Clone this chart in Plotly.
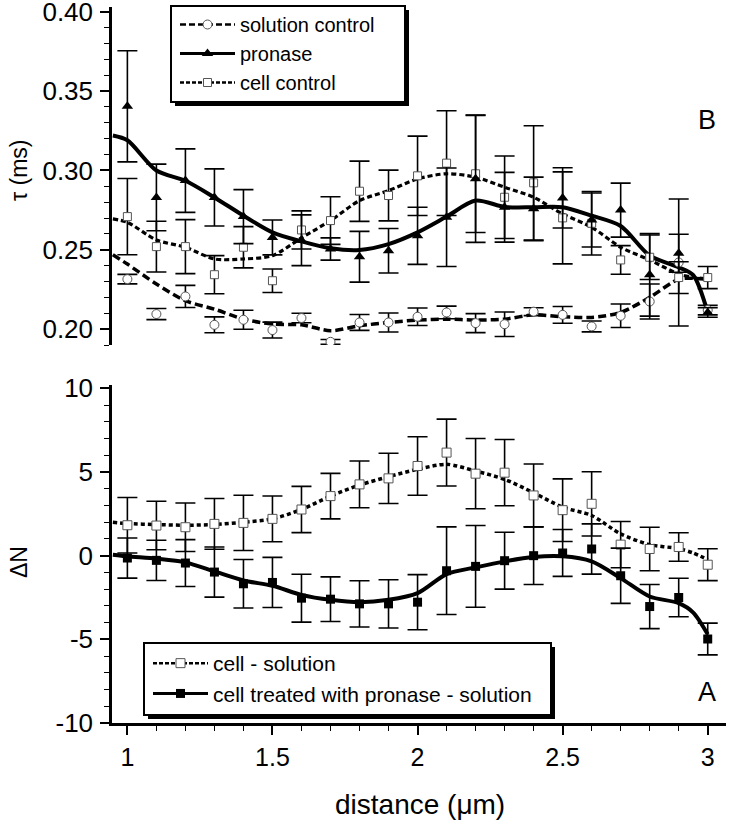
import plotly.graph_objects as go

FONT = "Liberation Sans, Arial, sans-serif"

# ---------------- data ----------------
x_pts = [1.0, 1.1, 1.2, 1.3, 1.4, 1.5, 1.6, 1.7, 1.8, 1.9, 2.0,
         2.1, 2.2, 2.3, 2.4, 2.5, 2.6, 2.7, 2.8, 2.9, 3.0]

# top panel (B): tau (ms)
sol_ctrl = [0.2315, 0.2095, 0.2206, 0.2027, 0.2059, 0.1994, 0.2070, 0.1920, 0.2042, 0.2042, 0.2078,
            0.2105, 0.2038, 0.2031, 0.2110, 0.2090, 0.2017, 0.2084, 0.2174, 0.2420, 0.2120]
sol_ctrl_err = [0.003, 0.0035, 0.007, 0.005, 0.006, 0.005, 0.003, 0.0015, 0.005, 0.006, 0.0055,
                0.004, 0.006, 0.0077, 0.0025, 0.0053, 0.0034, 0.0074, 0.011, 0.040, 0.003]

pronase = [0.3404, 0.2830, 0.2936, 0.2830, 0.2709, 0.2578, 0.2560, 0.2505, 0.2456, 0.2494, 0.2588,
           0.2705, 0.2947, 0.2768, 0.2758, 0.2827, 0.2688, 0.2750, 0.2342, 0.2478, 0.2105]
pronase_err = [0.035, 0.021, 0.020, 0.018, 0.017, 0.011, 0.016, 0.007, 0.016, 0.014, 0.018,
               0.031, 0.040, 0.022, 0.020, 0.019, 0.017, 0.017, 0.026, 0.012, 0.003]

cell_ctrl = [0.2709, 0.2520, 0.2520, 0.2343, 0.2516, 0.2305, 0.2625, 0.2684, 0.2869, 0.2842, 0.2966,
             0.3046, 0.2979, 0.2831, 0.2922, 0.2701, 0.2667, 0.2436, 0.2453, 0.2325, 0.2325]
cell_ctrl_err = [0.024, 0.016, 0.017, 0.012, 0.013, 0.0074, 0.012, 0.015, 0.019, 0.016, 0.025,
                 0.033, 0.037, 0.026, 0.036, 0.029, 0.020, 0.009, 0.014, 0.010, 0.007]

# smoothed curves drawn through the top panel
fit_x = [0.95, 1.0, 1.1, 1.2, 1.3, 1.4, 1.5, 1.6, 1.7, 1.8, 1.9, 2.0,
         2.1, 2.2, 2.3, 2.4, 2.5, 2.6, 2.7, 2.8, 2.9, 2.95, 3.0]
sol_ctrl_fit = [0.2469, 0.2410, 0.2284, 0.2179, 0.2126, 0.2063, 0.2032, 0.2027, 0.1990, 0.2021, 0.2042, 0.2057,
                0.2063, 0.2057, 0.2063, 0.2090, 0.2078, 0.2074, 0.2105, 0.2200, 0.2315, 0.2320, 0.2315]
pronase_fit = [0.3220, 0.3190, 0.3000, 0.2935, 0.2830, 0.2715, 0.2610, 0.2553, 0.2510, 0.2499, 0.2536, 0.2610,
               0.2709, 0.2810, 0.2770, 0.2768, 0.2768, 0.2715, 0.2650, 0.2463, 0.2390, 0.2340, 0.2105]
cell_ctrl_fit = [0.2695, 0.2673, 0.2562, 0.2516, 0.2442, 0.2442, 0.2463, 0.2575, 0.2684, 0.2810, 0.2873, 0.2947,
                 0.2979, 0.2958, 0.2894, 0.2831, 0.2726, 0.2642, 0.2516, 0.2436, 0.2347, 0.2326, 0.2316]

# bottom panel (A): delta N
cell_minus_sol = [1.82, 1.80, 1.70, 1.90, 1.96, 2.20, 2.76, 3.56, 4.26, 4.62, 5.36,
                  6.16, 4.90, 4.96, 3.60, 2.72, 3.10, 0.66, 0.40, 0.52, -0.54]
cell_minus_sol_err = [1.66, 1.45, 1.45, 1.52, 1.65, 1.37, 1.38, 1.36, 1.40, 1.50, 1.75,
                      2.00, 2.10, 1.98, 1.88, 1.87, 1.92, 1.38, 1.30, 0.85, 0.95]
pron_minus_sol = [-0.14, -0.28, -0.44, -0.98, -1.68, -1.60, -2.54, -2.60, -2.88, -2.88, -2.78,
                  -0.90, -0.64, -0.30, 0.00, 0.16, 0.40, -1.20, -3.04, -2.50, -4.98]
pron_minus_sol_err = [1.20, 1.20, 1.40, 1.50, 1.45, 1.50, 1.43, 1.33, 1.38, 1.44, 1.65,
                      2.62, 2.44, 1.70, 1.72, 1.40, 1.50, 1.65, 1.32, 1.15, 0.95]
cell_minus_sol_fit = [2.00, 1.92, 1.86, 1.82, 1.86, 2.00, 2.20, 2.76, 3.56, 4.22, 4.72, 5.16,
                      5.46, 5.06, 4.56, 3.76, 2.90, 2.40, 1.30, 0.66, 0.42, 0.16, -0.24]
pron_minus_sol_fit = [0.06, -0.04, -0.18, -0.40, -0.94, -1.48, -1.80, -2.34, -2.64, -2.78, -2.64, -2.24,
                      -1.10, -0.70, -0.34, -0.08, -0.04, -0.34, -1.34, -2.44, -2.84, -3.40, -4.70]

# axis ticks
top_tickvals = [0.20, 0.25, 0.30, 0.35, 0.40]
top_ticktext = ["0.20", "0.25", "0.30", "0.35", "0.40"]
bot_tickvals = [-10, -5, 0, 5, 10]
bot_ticktext = ["-10", "-5", "0", "5", "10"]
x_tickvals = [1, 1.5, 2, 2.5, 3]
x_ticktext = ["1", "1.5", "2", "2.5", "3"]

# ---------------- figure ----------------
W, H = 731, 821
ML, MR, MT, MB = 112, 5, 7, 98
PW, PH = W - ML - MR, H - MT - MB


def px(X):
    return (X - ML) / PW


def py(Y):
    return (H - MB - Y) / PH


fig = go.Figure()

ERR = dict(type="data", visible=True, color="black", thickness=1.6, width=10)
TOP = dict(xaxis="x2", yaxis="y2")

# fitted curves (top)
fig.add_trace(go.Scatter(x=fit_x, y=sol_ctrl_fit, mode="lines", showlegend=False, **TOP,
                         line=dict(color="black", width=3.5, dash="8px,4px", shape="spline", smoothing=0.8)))
fig.add_trace(go.Scatter(x=fit_x, y=cell_ctrl_fit, mode="lines", showlegend=False, **TOP,
                         line=dict(color="black", width=3.2, dash="5px,3px", shape="spline", smoothing=0.8)))
fig.add_trace(go.Scatter(x=fit_x, y=pronase_fit, mode="lines", showlegend=False, **TOP,
                         line=dict(color="black", width=4, shape="spline", smoothing=0.8)))

# data points (top)
fig.add_trace(go.Scatter(x=x_pts, y=sol_ctrl, mode="markers", showlegend=False, **TOP,
                         error_y=dict(array=sol_ctrl_err, **ERR),
                         marker=dict(symbol="circle", size=9, color="white", line=dict(color="#555", width=1))))
fig.add_trace(go.Scatter(x=x_pts, y=cell_ctrl, mode="markers", showlegend=False, **TOP,
                         error_y=dict(array=cell_ctrl_err, **ERR),
                         marker=dict(symbol="square", size=8, color="white", line=dict(color="#555", width=1))))
fig.add_trace(go.Scatter(x=x_pts, y=pronase, mode="markers", showlegend=False, **TOP,
                         error_y=dict(array=pronase_err, **ERR),
                         marker=dict(symbol="triangle-up", size=10, color="black")))

# fitted curves (bottom)
fig.add_trace(go.Scatter(x=fit_x, y=cell_minus_sol_fit, mode="lines", showlegend=False,
                         line=dict(color="black", width=3.5, dash="4px,3px", shape="spline", smoothing=0.8)))
fig.add_trace(go.Scatter(x=fit_x, y=pron_minus_sol_fit, mode="lines", showlegend=False,
                         line=dict(color="black", width=4, shape="spline", smoothing=0.8)))
# data points (bottom)
fig.add_trace(go.Scatter(x=x_pts, y=cell_minus_sol, mode="markers", showlegend=False,
                         error_y=dict(array=cell_minus_sol_err, **ERR),
                         marker=dict(symbol="square", size=9, color="white", line=dict(color="#555", width=1))))
fig.add_trace(go.Scatter(x=x_pts, y=pron_minus_sol, mode="markers", showlegend=False,
                         error_y=dict(array=pron_minus_sol_err, **ERR),
                         marker=dict(symbol="square", size=9, color="black")))

# legend entries (no data of their own)
fig.add_trace(go.Scatter(x=[None], y=[None], mode="lines+markers", name="solution control", legend="legend", **TOP,
                         line=dict(color="black", width=2.5, dash="6px,3px"),
                         marker=dict(symbol="circle", size=9, color="white", line=dict(color="#555", width=1))))
fig.add_trace(go.Scatter(x=[None], y=[None], mode="lines+markers", name="pronase", legend="legend", **TOP,
                         line=dict(color="black", width=3),
                         marker=dict(symbol="triangle-up", size=10, color="black")))
fig.add_trace(go.Scatter(x=[None], y=[None], mode="lines+markers", name="cell control", legend="legend", **TOP,
                         line=dict(color="black", width=2.5, dash="4px,2px"),
                         marker=dict(symbol="square", size=8, color="white", line=dict(color="#555", width=1))))
fig.add_trace(go.Scatter(x=[None], y=[None], mode="lines+markers", name="cell - solution", legend="legend2",
                         line=dict(color="black", width=2.5, dash="4px,2px"),
                         marker=dict(symbol="square", size=9, color="white", line=dict(color="#555", width=1))))
fig.add_trace(go.Scatter(x=[None], y=[None], mode="lines+markers", name="cell treated with pronase - solution",
                         legend="legend2",
                         line=dict(color="black", width=3),
                         marker=dict(symbol="square", size=9, color="black")))

AX = dict(showgrid=False, zeroline=False, showline=True, linecolor="black", linewidth=2.5,
          ticks="outside", ticklen=9, tickwidth=1.5, tickcolor="black", ticklabeloverflow="allow",
          tickfont=dict(family=FONT, size=25, color="black"))
XR = [0.947, 3.063]


def box(x0, y0, x1, y1, off=4):
    return [
        dict(type="rect", xref="paper", yref="paper", x0=px(x0 + off), x1=px(x1 + off),
             y0=py(y1 + off), y1=py(y0 + off), fillcolor="black", line=dict(width=0), layer="above"),
        dict(type="rect", xref="paper", yref="paper", x0=px(x0), x1=px(x1), y0=py(y1), y1=py(y0),
             fillcolor="white", line=dict(color="black", width=2), layer="above"),
    ]


fig.update_layout(
    width=W, height=H,
    margin=dict(l=ML, r=MR, t=MT, b=MB, autoexpand=False),
    paper_bgcolor="white", plot_bgcolor="white",
    font=dict(family=FONT, color="black"),
    xaxis=dict(AX, domain=[0, 1], range=XR, anchor="y",
               tickmode="array", tickvals=x_tickvals, ticktext=x_ticktext, ticklabelstandoff=1,
               minor=dict(tickmode="linear", tick0=1, dtick=0.1, ticks="outside", ticklen=5,
                          tickwidth=1.2, tickcolor="black")),
    yaxis=dict(AX, domain=[0, py(385)], range=[-10, 10.2], anchor="x",
               tickmode="array", tickvals=bot_tickvals, ticktext=bot_ticktext, ticklabelstandoff=2,
               tickfont=dict(family=FONT, size=26, color="black"),
               minor=dict(tickmode="linear", tick0=0, dtick=1, ticks="outside", ticklen=5,
                          tickwidth=1.2, tickcolor="black")),
    xaxis2=dict(domain=[0, 1], range=XR, anchor="y2", matches="x", visible=False,
                showgrid=False, zeroline=False),
    yaxis2=dict(AX, domain=[py(345), 1], range=[0.190, 0.403], anchor="x2",
                tickmode="array", tickvals=top_tickvals, ticktext=top_ticktext, ticklabelstandoff=2,
                tickfont=dict(family=FONT, size=26, color="black"),
                minor=dict(tickmode="linear", tick0=0.2, dtick=0.01, ticks="outside", ticklen=5,
                           tickwidth=1.2, tickcolor="black")),
    legend=dict(x=px(175), y=py(5), xanchor="left", yanchor="top", bgcolor="rgba(0,0,0,0)",
                borderwidth=0, itemwidth=55, tracegroupgap=0,
                font=dict(family=FONT, size=20, color="black")),
    legend2=dict(x=px(148), y=py(643), xanchor="left", yanchor="top", bgcolor="rgba(0,0,0,0)",
                 borderwidth=0, itemwidth=55, tracegroupgap=0,
                 font=dict(family=FONT, size=21, color="black")),
    shapes=box(171, 6, 405, 102) + box(144, 643, 551, 715),
    annotations=[
        dict(text="B", x=px(707), y=py(120), xref="paper", yref="paper", showarrow=False,
             xanchor="center", yanchor="middle", font=dict(family=FONT, size=27)),
        dict(text="A", x=px(707), y=py(692), xref="paper", yref="paper", showarrow=False,
             xanchor="center", yanchor="middle", font=dict(family=FONT, size=27)),
        dict(text="\u03c4 (ms)", x=px(19), y=py(170), xref="paper", yref="paper", showarrow=False,
             textangle=-90, xanchor="center", yanchor="middle", font=dict(family=FONT, size=23)),
        dict(text="\u0394N", x=px(19), y=py(562), xref="paper", yref="paper", showarrow=False,
             textangle=-90, xanchor="center", yanchor="middle", font=dict(family=FONT, size=23)),
        dict(text="distance (\u03bcm)", x=px(420), y=py(805), xref="paper", yref="paper", showarrow=False,
             xanchor="center", yanchor="middle", font=dict(family=FONT, size=28)),
    ],
)

fig.write_html("out.html", config={"displayModeBar": False},
               post_script="document.body.style.margin='0px';")
